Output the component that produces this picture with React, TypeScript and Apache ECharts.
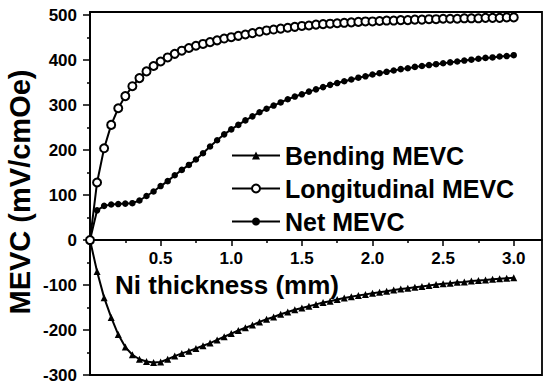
import React, { useEffect, useRef } from "react";
import * as echarts from "echarts";

const thickness = [
  0, 0.05, 0.1, 0.15, 0.2, 0.25, 0.3, 0.35, 0.4, 0.45,
  0.5, 0.55, 0.6, 0.65, 0.7, 0.75, 0.8, 0.85, 0.9, 0.95,
  1.0, 1.05, 1.1, 1.15, 1.2, 1.25, 1.3, 1.35, 1.4, 1.45,
  1.5, 1.55, 1.6, 1.65, 1.7, 1.75, 1.8, 1.85, 1.9, 1.95,
  2.0, 2.05, 2.1, 2.15, 2.2, 2.25, 2.3, 2.35, 2.4, 2.45,
  2.5, 2.55, 2.6, 2.65, 2.7, 2.75, 2.8, 2.85, 2.9, 2.95, 3.0,
];

const bending = [
  0, -70, -128, -172, -210, -238, -255, -265, -270, -272,
  -271, -265, -258, -252, -247, -241, -235, -229, -222, -215,
  -208, -201, -195, -189, -182, -176, -171, -165, -160, -155,
  -151, -147, -143, -139, -136, -132, -129, -126, -123, -121,
  -118, -116, -114, -111, -109, -107, -105, -103, -101, -99,
  -97, -96, -94, -93, -91, -90, -89, -87, -86, -85, -84,
];

const longitudinal = [
  0, 128, 204, 256, 293, 320, 342, 360, 375, 387,
  397, 406, 414, 421, 427, 432, 436, 440, 444, 448,
  451, 454, 457, 460, 463, 466, 468, 470, 472, 474,
  476, 477, 479, 480, 481, 482, 483, 484, 485, 486,
  486, 487, 488, 488, 489, 489, 490, 490, 491, 491,
  492, 492, 492, 493, 493, 493, 494, 494, 494, 495, 495,
];

const net = [
  0, 66, 76, 79, 80, 81, 82, 88, 98, 108,
  120, 131, 144, 156, 167, 179, 193, 208, 222, 235,
  246, 256, 266, 275, 284, 292, 299, 306, 313, 319,
  324, 330, 335, 340, 345, 349, 353, 357, 361, 364,
  368, 371, 374, 377, 380, 382, 385, 387, 389, 391,
  393, 395, 397, 399, 401, 403, 405, 406, 408, 409, 411,
];

const yMajorTicks = [-300, -200, -100, 0, 100, 200, 300, 400, 500];
const yMinorTicks = [-250, -150, -50, 50, 150, 250, 350, 450];
const xMajorTicks = [0.5, 1.0, 1.5, 2.0, 2.5, 3.0];
const xMinorTicks = [0.25, 0.75, 1.25, 1.75, 2.25, 2.75];

const FONT = '"Liberation Sans", Arial, sans-serif';

export default function App() {
  const ref = useRef<HTMLDivElement>(null);

  useEffect(() => {
    if (!ref.current) return;
    document.body.style.margin = "0";
    const chart = echarts.init(ref.current, null, { renderer: "svg" });
    const pair = (arr: number[]) => thickness.map((x, i) => [x, arr[i]]);

    const Y_MIN = -300;
    const Y_MAX = 507;
    const GRID_TOP = 12;
    const GRID_BOTTOM = 13;
    const plotH = 388 - GRID_TOP - GRID_BOTTOM;
    // shift the x axis up from the bottom edge to the zero line
    const zeroOffset = -(plotH * (0 - Y_MIN)) / (Y_MAX - Y_MIN);

    const yBase = {
      type: "value",
      min: Y_MIN,
      max: Y_MAX,
      position: "left",
      splitLine: { show: false },
    };
    const xBase = {
      type: "value",
      min: 0,
      max: 3.2,
      position: "bottom",
      offset: zeroOffset,
      splitLine: { show: false },
    };

    chart.setOption({
      animation: false,
      backgroundColor: "#fff",
      grid: {
        left: 90,
        right: 8,
        top: GRID_TOP,
        bottom: GRID_BOTTOM,
        show: true,
        borderColor: "#000",
        borderWidth: 1.8,
        backgroundColor: "transparent",
      },
      xAxis: [
        {
          ...xBase,
          axisLine: { show: true, onZero: false, lineStyle: { color: "#000", width: 1.8 } },
          axisTick: { show: true, inside: false, length: 6, customValues: xMajorTicks, lineStyle: { color: "#000", width: 1.5 } },
          axisLabel: {
            show: true,
            customValues: xMajorTicks,
            margin: 10,
            color: "#000",
            fontSize: 17,
            fontWeight: "bold",
            fontFamily: FONT,
            formatter: (v: number) => v.toFixed(1),
          },
        },
        {
          ...xBase,
          axisLine: { show: false, onZero: false },
          axisTick: { show: true, inside: false, length: 3, customValues: xMinorTicks, lineStyle: { color: "#000", width: 1.5 } },
          axisLabel: { show: false },
        },
      ],
      yAxis: [
        {
          ...yBase,
          axisLine: { show: true, onZero: false, lineStyle: { color: "#000", width: 1.8 } },
          axisTick: { show: true, inside: false, length: 7, customValues: yMajorTicks, lineStyle: { color: "#000", width: 1.5 } },
          axisLabel: {
            show: true,
            customValues: yMajorTicks,
            margin: 13,
            color: "#000",
            fontSize: 17,
            fontWeight: "bold",
            fontFamily: FONT,
          },
        },
        {
          ...yBase,
          axisLine: { show: false, onZero: false },
          axisTick: { show: true, inside: false, length: 3, customValues: yMinorTicks, lineStyle: { color: "#000", width: 1.5 } },
          axisLabel: { show: false },
        },
      ],
      legend: {
        orient: "vertical",
        left: 231,
        top: 143,
        itemWidth: 48,
        itemHeight: 10,
        itemGap: 8,
        padding: 0,
        textStyle: { color: "#000", fontSize: 25, fontWeight: "bold", fontFamily: FONT },
        data: ["Bending MEVC", "Longitudinal MEVC", "Net MEVC"],
      },
      series: [
        {
          name: "Bending MEVC",
          type: "line",
          xAxisIndex: 0,
          yAxisIndex: 0,
          data: pair(bending),
          symbol: "triangle",
          symbolSize: 7,
          itemStyle: { color: "#000" },
          lineStyle: { color: "#000", width: 2 },
        },
        {
          name: "Net MEVC",
          type: "line",
          xAxisIndex: 0,
          yAxisIndex: 0,
          data: pair(net),
          symbol: "circle",
          symbolSize: 6.5,
          itemStyle: { color: "#000" },
          lineStyle: { color: "#000", width: 2 },
        },
        {
          name: "Longitudinal MEVC",
          type: "line",
          xAxisIndex: 0,
          yAxisIndex: 0,
          data: pair(longitudinal),
          symbol: "emptyCircle",
          symbolSize: 8,
          itemStyle: { color: "#000", borderColor: "#000", borderWidth: 1 },
          lineStyle: { color: "#000", width: 2 },
        },
      ],
      graphic: [
        {
          type: "text",
          x: 115,
          y: 285,
          style: {
            text: "Ni thickness (mm)",
            fill: "#000",
            font: `bold 26px ${FONT}`,
            align: "left",
            verticalAlign: "middle",
          },
        },
        {
          type: "text",
          x: 20,
          y: 192,
          rotation: Math.PI / 2,
          style: {
            text: "MEVC (mV/cmOe)",
            fill: "#000",
            font: `bold 29px ${FONT}`,
            align: "center",
            verticalAlign: "middle",
          },
        },
      ],
    });

    return () => chart.dispose();
  }, []);

  return <div ref={ref} style={{ width: 550, height: 388 }} />;
}
